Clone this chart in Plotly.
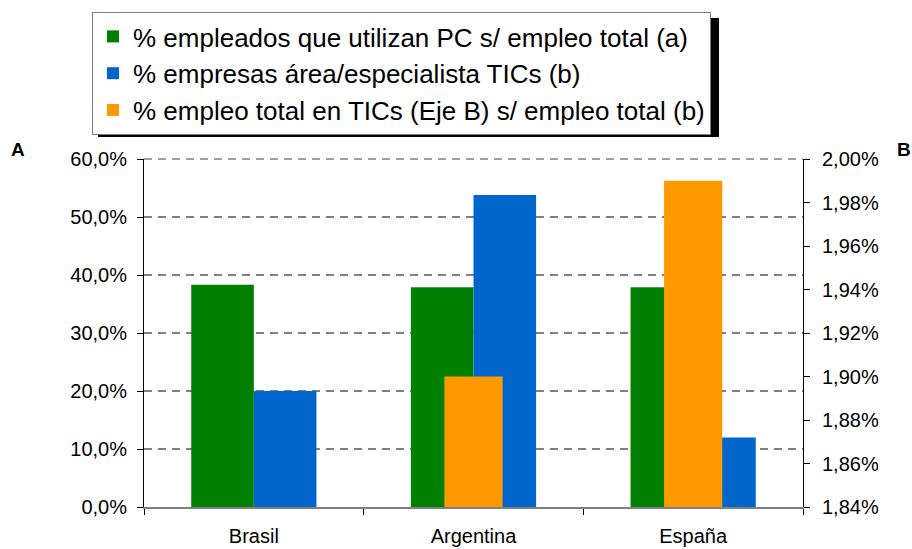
import plotly.graph_objects as go

# ---- data ----
categorias = ["Brasil", "Argentina", "España"]
pc_empleados = [38.3, 37.9, 37.9]          # % empleados que utilizan PC (eje A)
empresas_tic = [20.0, 53.8, 12.0]          # % empresas área/especialista TICs (eje A)
empleo_tic = [None, 1.90, 1.99]            # % empleo total en TICs (eje B)
nombres = [
    "% empleados que utilizan PC s/ empleo total (a)",
    "% empresas área/especialista TICs (b)",
    "% empleo total en TICs (Eje B) s/ empleo total (b)",
]
colores = ["#008000", "#0066CC", "#FF9900"]
ticks_a = [0, 10, 20, 30, 40, 50, 60]
ticks_b = [1.84, 1.86, 1.88, 1.90, 1.92, 1.94, 1.96, 1.98, 2.00]
labels_a = [f"{v:.1f}%".replace(".", ",") for v in ticks_a]
labels_b = [f"{v:.2f}%".replace(".", ",") for v in ticks_b]

W, H = 912, 549
PL, PR, PT, PB = 144, 803, 159, 507          # plot area in page pixels
ML, MT = PL, PT
MR, MB = W - PR, H - PB
PW, PH = PR - PL, PB - PT

def px_x(p):
    return (p - PL) / PW

def px_y(p):
    return (PB - p) / PH

FONT = "Liberation Sans, Arial, sans-serif"

fig = go.Figure()
fig.add_bar(x=categorias, y=pc_empleados, name=nombres[0], marker_color=colores[0],
            marker_line_width=0, width=0.285, offset=-0.285, yaxis="y")
fig.add_bar(x=categorias, y=empresas_tic, name=nombres[1], marker_color=colores[1],
            marker_line_width=0, width=0.285, offset=0, yaxis="y")
fig.add_bar(x=categorias, y=empleo_tic, name=nombres[2], marker_color=colores[2],
            marker_line_width=0, width=0.265, offset=-0.1325, yaxis="y2")

fig.update_layout(
    width=W, height=H,
    margin=dict(l=ML, r=MR, t=MT, b=MB, pad=0, autoexpand=False),
    paper_bgcolor="white", plot_bgcolor="white",
    barmode="overlay",
    separators=",.",
    font=dict(family=FONT, size=20, color="black"),
    showlegend=True,
    legend=dict(
        x=px_x(92), y=px_y(12), xanchor="left", yanchor="top",
        bgcolor="white", bordercolor="#808080", borderwidth=1,
        font=dict(family=FONT, size=26, color="black"),
        itemwidth=30, traceorder="normal",
    ),
    xaxis=dict(
        type="category", showgrid=False, showline=True, linecolor="#808080", linewidth=2,
        ticks="outside", tickson="boundaries", ticklen=6, tickcolor="black",
        ticklabelstandoff=10, tickfont=dict(size=20),
    ),
    yaxis=dict(
        range=[0, 60], tickvals=ticks_a, ticktext=labels_a,
        showline=True, linecolor="black", linewidth=1,
        ticks="outside", ticklen=6, tickcolor="black",
        showgrid=True, gridcolor="#808080", gridwidth=1.5, griddash="8px,6px",
        zeroline=False, tickfont=dict(size=20), ticklabelstandoff=6,
    ),
    yaxis2=dict(
        range=[1.84, 2.00], tickvals=ticks_b, ticktext=labels_b,
        overlaying="y", side="right", showline=True, linecolor="black", linewidth=1,
        ticks="outside", ticklen=6, tickcolor="black", showgrid=False, zeroline=False,
        tickfont=dict(size=20), ticklabelstandoff=8,
    ),
    shapes=[
        # top dashed gridline at the 60% level
        dict(type="line", xref="paper", yref="paper", x0=0, x1=1, y0=1, y1=1,
             line=dict(color="#808080", width=1.5, dash="8px,6px"), layer="below"),
        # legend drop shadow
        dict(type="rect", xref="paper", yref="paper",
             x0=px_x(98), x1=px_x(719), y0=px_y(137), y1=px_y(18),
             fillcolor="black", line=dict(width=0), layer="above"),
    ],
    annotations=[
        dict(text="<b>A</b>", xref="paper", yref="paper", x=px_x(18), y=px_y(150),
             xanchor="center", yanchor="middle",
             showarrow=False, font=dict(size=19, family=FONT)),
        dict(text="<b>B</b>", xref="paper", yref="paper", x=px_x(904), y=px_y(150),
             xanchor="center", yanchor="middle",
             showarrow=False, font=dict(size=19, family=FONT)),
    ],
)

fig.write_html(
    "out.html",
    config={"displayModeBar": False},
    post_script="document.body.style.margin='0';document.body.style.overflow='hidden';",
)
